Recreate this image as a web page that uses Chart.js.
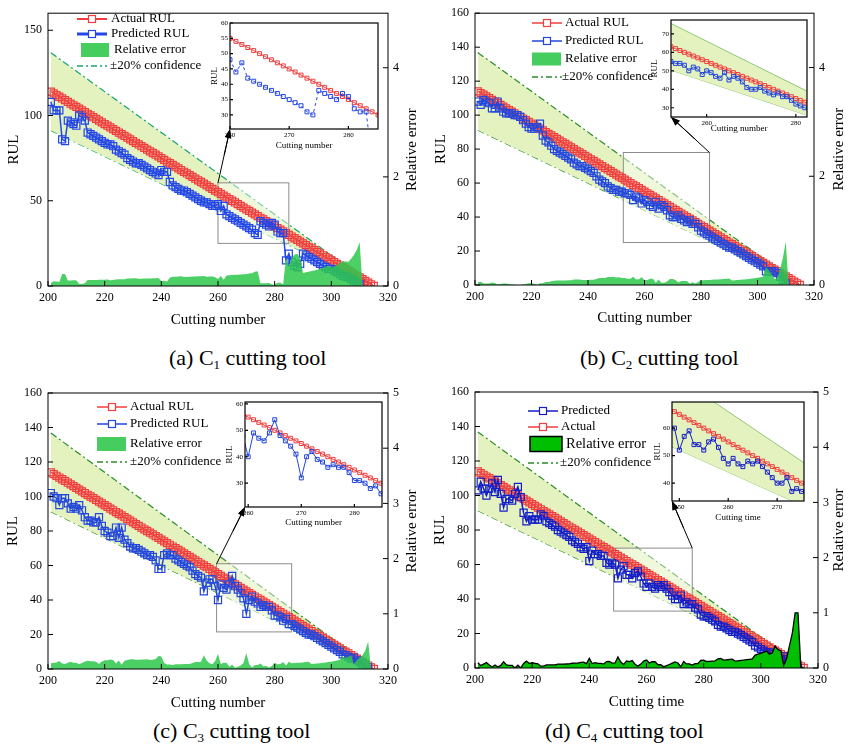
<!DOCTYPE html>
<html>
<head>
<meta charset="utf-8">
<script src="https://cdn.jsdelivr.net/npm/chart.js@4.4.1/dist/chart.umd.min.js"></script>
<style>
  body { margin: 0; background: #fff; width: 853px; height: 744px; position: relative; overflow: hidden;
         font-family: 'Liberation Serif', 'Times New Roman', serif; }
  canvas { position: absolute; }
  .cap { position: absolute; font-size: 22px; line-height: 22px; white-space: nowrap; color: #000; }
  .cap sub { font-size: 13px; vertical-align: baseline; position: relative; top: 4px; }
</style>
</head>
<body>
<div class="cap" style="left:169px;top:347px">(a) C<sub>1</sub> cutting tool</div>
<div class="cap" style="left:580px;top:347px">(b) C<sub>2</sub> cutting tool</div>
<div class="cap" style="left:153px;top:720px">(c) C<sub>3</sub> cutting tool</div>
<div class="cap" style="left:545px;top:720px">(d) C<sub>4</sub> cutting tool</div>
<script>
// cutting numbers 201..315 and the true remaining useful life
const cuttingNumbers = [
  201,202,203,204,205,206,207,208,209,210,211,212,213,214,215,216,217,218,219,220,
  221,222,223,224,225,226,227,228,229,230,231,232,233,234,235,236,237,238,239,240,
  241,242,243,244,245,246,247,248,249,250,251,252,253,254,255,256,257,258,259,260,
  261,262,263,264,265,266,267,268,269,270,271,272,273,274,275,276,277,278,279,280,
  281,282,283,284,285,286,287,288,289,290,291,292,293,294,295,296,297,298,299,300,
  301,302,303,304,305,306,307,308,309,310,311,312,313,314,315
];
const actualRUL = [
  114,113,112,111,110,109,108,107,106,105,104,103,102,101,100,99,98,97,96,95,
  94,93,92,91,90,89,88,87,86,85,84,83,82,81,80,79,78,77,76,75,
  74,73,72,71,70,69,68,67,66,65,64,63,62,61,60,59,58,57,56,55,
  54,53,52,51,50,49,48,47,46,45,44,43,42,41,40,39,38,37,36,35,
  34,33,32,31,30,29,28,27,26,25,24,23,22,21,20,19,18,17,16,15,
  14,13,12,11,10,9,8,7,6,5,4,3,2,1,0
];

// predicted RUL, starting at cutting number 201
const predictedC1 = [
  108,103,103,103,86,85,97,96,95,94,100,99,97,90,89,88,87,86,85,84,
  83,83,82,80,79,78,77,75,74,73,72,72,71,70,69,68,67,66,65,68,
  67,67,61,59,58,57,56,56,55,54,53,52,51,50,49,49,48,47,47,48,
  44,47,42,41,40,39,38,37,36,35,34,33,31,30,38,37,36,35,37,36,
  32,31,31,15,19,14,12,11,13,19,18,17,16,15,14,13,12,11,10,10,
  9,8,7,6,5.5,5,4,3,2,1
];
const predictedC2 = [
  108,106,109,108,107,104,104,108,104,102,101,101,101,100,100,99,97,95,93,92,
  92,93,95,88,85,84,82,80,79,78,77,76,75,74,72,71,70,70,69,68,
  67,66,64,62,61,60,58,57,56,56,55,55,54,54,53,50,52,51,48,50,
  49,47,46,49,45,47,46,44,41,40,40,41,39,38,37,38,36,36,34,32,
  31,30,29,28,27,26,25,24,23,22,22,21,20,19,18,17,16,15,14,13,
  12,11,8,8,8,8,7,5,3,1
];
const predictedC3 = [
  102,100,99,95,99,99,96,93,94,93,95,92,88,86,86,85,85,88,83,80,
  79,77,77,82,76,82,75,73,71,70,70,69,68,67,66,66,65,63,58,58,
  66,67,66,66,64,63,62,61,60,59,57,55,54,53,45,50,52,52,48,40,
  49,47,46,49,54,48,46,44,41,32,40,42,39,38,36,37,36,36,34,31,
  31,30,28,29,26,26,25,24,23,22,21,20,20,19,18,17,16,15,14,13,
  12,11,10,8.5,8,7,6,6.5,5,4,3,2,1
];
const predictedC4 = [
  103,108,104,100,104,107,102,109,101,93,98,98,97,101,105,99,90,85,88,86,
  86,86,89,88,85,84,83,82,80,79,78,77,76,74,73,72,70,69,70,62,
  68,66,66,65,65,61,60,61,60,52,57,59,54,54,52,55,56,53,49,47,
  49,47,46,48,47,48,46,44,42,40,40,42,37,38,37,37,35,34,31,30,
  30,29,28,27,25,24,24,23,22,21,21,20,19,18,17,16,15,13,12,11,
  10,9,9,8,6,6,5.5,6.7,5,3,1.5,0,0
];

// tick labels
const cuttingTicks = [200, 220, 240, 260, 280, 300, 320];
const rulTicksC1 = [0, 50, 100, 150];
const rulTicks = [0, 20, 40, 60, 80, 100, 120, 140, 160];
const errorTicksC1C2 = [0, 2, 4];
const errorTicksC3C4 = [0, 1, 2, 3, 4, 5];
const insetTicksC1 = { x: [260, 270, 280], y: [30, 35, 40, 45, 50, 55, 60] };
const insetTicksC2 = { x: [260, 280], y: [30, 40, 50, 60, 70] };
const insetTicksC3 = { x: [260, 270, 280], y: [30, 40, 50, 60] };
const insetTicksC4 = { x: [250, 260, 270], y: [40, 50, 60] };

const FONT = "'Liberation Serif', 'Times New Roman', serif";
const RED = 'rgb(240,62,62)';
const BAND = 'rgb(228,242,192)';
Chart.defaults.font.family = FONT;
Chart.defaults.color = '#000';

function pts(values) {
  return values.map((v, i) => ({ x: cuttingNumbers[i], y: v }));
}
function relErr(pred) {
  return cuttingNumbers.map((x, i) => {
    const p = pred[i], a = actualRUL[i];
    return { x: x, y: (p == null || a === 0) ? 0 : Math.abs(p - a) / a };
  });
}
function setTicks(arr) {
  return s => { s.ticks = arr.map(v => ({ value: v })); };
}
function addCanvas(b) {
  const c = document.createElement('canvas');
  c.width = b.w; c.height = b.h;
  c.style.left = b.x + 'px'; c.style.top = b.y + 'px';
  c.style.width = b.w + 'px'; c.style.height = b.h + 'px';
  document.body.appendChild(c);
  return c;
}

// box round the plot and short inward ticks
const framePlugin = {
  id: 'frame',
  beforeDraw(chart, args, opts) {
    if (!opts.fill) return;
    const a = chart.chartArea, ctx = chart.ctx;
    ctx.save();
    ctx.fillStyle = opts.fill;
    ctx.fillRect(a.left, a.top, a.right - a.left, a.bottom - a.top);
    ctx.restore();
  },
  afterDraw(chart, args, opts) {
    const a = chart.chartArea, ctx = chart.ctx, sc = chart.scales;
    const L = opts.tick || 4;
    ctx.save();
    ctx.strokeStyle = '#000';
    ctx.lineWidth = opts.width || 1;
    ctx.strokeRect(a.left, a.top, a.right - a.left, a.bottom - a.top);
    ctx.beginPath();
    sc.x.ticks.forEach(t => {
      const px = sc.x.getPixelForValue(t.value);
      ctx.moveTo(px, a.bottom); ctx.lineTo(px, a.bottom - L);
    });
    sc.y.ticks.forEach(t => {
      const py = sc.y.getPixelForValue(t.value);
      ctx.moveTo(a.left, py); ctx.lineTo(a.left + L, py);
    });
    if (sc.y1) {
      sc.y1.ticks.forEach(t => {
        const py = sc.y1.getPixelForValue(t.value);
        ctx.moveTo(a.right, py); ctx.lineTo(a.right - L, py);
      });
    }
    ctx.stroke();
    ctx.restore();
  }
};

function arrowEnds(p) {
  const m = p.mainChart, ins = p.insetChart;
  if (!m || !ins) return null;
  const r = p.rect;
  const cx = p.corner === 'tl' ? r.x0 : r.x1;
  return {
    sx: m.scales.x.getPixelForValue(cx) + p.box.x,
    sy: m.scales.y.getPixelForValue(r.y1) + p.box.y,
    ex: ins.chartArea.left + p.inset.box.x,
    ey: ins.chartArea.bottom + p.inset.box.y
  };
}
function drawArrow(ctx, p, ox, oy) {
  const e = arrowEnds(p);
  if (!e) return;
  const sx = e.sx - ox, sy = e.sy - oy, ex = e.ex - ox, ey = e.ey - oy;
  const ang = Math.atan2(ey - sy, ex - sx), c = Math.cos(ang), s = Math.sin(ang);
  ctx.save();
  ctx.strokeStyle = '#000'; ctx.fillStyle = '#000'; ctx.lineWidth = 1;
  ctx.beginPath(); ctx.moveTo(sx, sy); ctx.lineTo(ex - 6 * c, ey - 6 * s); ctx.stroke();
  ctx.beginPath();
  ctx.moveTo(ex, ey);
  ctx.lineTo(ex - 9 * c + 3.2 * s, ey - 9 * s - 3.2 * c);
  ctx.lineTo(ex - 9 * c - 3.2 * s, ey - 9 * s + 3.2 * c);
  ctx.closePath(); ctx.fill();
  ctx.restore();
}

function drawLegend(ctx, lg) {
  ctx.save();
  ctx.textBaseline = 'middle';
  lg.items.forEach(it => {
    ctx.setLineDash([]);
    if (it.kind === 'line') {
      ctx.strokeStyle = it.color; ctx.lineWidth = it.width;
      ctx.beginPath(); ctx.moveTo(lg.x0, it.y); ctx.lineTo(lg.x1, it.y); ctx.stroke();
      const m = (lg.x0 + lg.x1) / 2;
      ctx.fillStyle = '#fff'; ctx.fillRect(m - 3.5, it.y - 3.5, 7, 7);
      ctx.lineWidth = 1.2; ctx.strokeRect(m - 3.5, it.y - 3.5, 7, 7);
    } else if (it.kind === 'box') {
      ctx.fillStyle = it.fill;
      ctx.fillRect(it.bx0, it.y - it.bh / 2, it.bx1 - it.bx0, it.bh);
      if (it.stroke) {
        ctx.strokeStyle = it.stroke; ctx.lineWidth = 1.5;
        ctx.strokeRect(it.bx0, it.y - it.bh / 2, it.bx1 - it.bx0, it.bh);
      }
    } else {
      ctx.strokeStyle = it.color; ctx.lineWidth = 1.3;
      ctx.setLineDash([6, 3, 2, 3]);
      ctx.beginPath(); ctx.moveTo(lg.x0, it.y); ctx.lineTo(lg.x1, it.y); ctx.stroke();
      ctx.setLineDash([]);
    }
    ctx.fillStyle = '#000';
    ctx.font = (it.size || 13) + 'px ' + FONT;
    ctx.fillText(it.label, it.tx || lg.tx, it.y);
  });
  ctx.restore();
}

function makeOverlay(p) {
  return {
    id: 'overlay',
    afterDatasetDraw(chart, args) {
      if (args.index !== 0) return;
      const ctx = chart.ctx, sx = chart.scales.x, sy = chart.scales.y, r = p.rect;
      const x0 = sx.getPixelForValue(r.x0), x1 = sx.getPixelForValue(r.x1);
      const y0 = sy.getPixelForValue(r.y1), y1 = sy.getPixelForValue(r.y0);
      ctx.save();
      ctx.fillStyle = 'rgba(255,255,255,0.45)';
      ctx.fillRect(x0, y0, x1 - x0, y1 - y0);
      ctx.strokeStyle = 'rgb(140,140,140)'; ctx.lineWidth = 1;
      ctx.strokeRect(x0, y0, x1 - x0, y1 - y0);
      ctx.restore();
    },
    afterDraw(chart) {
      const ctx = chart.ctx, a = chart.chartArea;
      drawLegend(ctx, p.legend);
      ctx.save();
      ctx.fillStyle = '#000';
      ctx.font = '15px ' + FONT;
      ctx.textAlign = 'center'; ctx.textBaseline = 'middle';
      ctx.translate(p.box.w - 14, (a.top + a.bottom) / 2);
      ctx.rotate(-Math.PI / 2);
      ctx.fillText('Relative error', 0, 0);
      ctx.restore();
      drawArrow(ctx, p, p.box.x, p.box.y);
    }
  };
}

const noGrid = { display: false, drawTicks: false };

function buildMain(p) {
  const cv = addCanvas(p.box);
  const tickFont = { family: FONT, size: 12 };
  const titleFont = { family: FONT, size: 15 };
  return new Chart(cv, {
    type: 'line',
    data: {
      datasets: [
        { data: pts(actualRUL.map(v => v * 1.2)), borderColor: p.bandLine, borderWidth: 1.2,
          borderDash: [7, 3, 2, 3], pointRadius: 0, fill: '+1', backgroundColor: BAND, order: 4 },
        { data: pts(actualRUL.map(v => v * 0.8)), borderColor: p.bandLine, borderWidth: 1.2,
          borderDash: [7, 3, 2, 3], pointRadius: 0, fill: false, order: 5 },
        { data: pts(actualRUL), borderColor: RED, borderWidth: 1.2, pointStyle: 'rect', pointRadius: 5,
          pointBorderColor: RED, pointBackgroundColor: 'rgba(0,0,0,0)', pointBorderWidth: 1.2, fill: false, order: 2 },
        { data: pts(p.pred), borderColor: p.blue, borderWidth: 1.5, pointStyle: 'rect', pointRadius: 5,
          pointBorderColor: p.blue, pointBackgroundColor: 'rgba(0,0,0,0)', pointBorderWidth: 1.2, fill: false, order: 1 },
        { data: relErr(p.pred), yAxisID: 'y1', fill: 'origin', backgroundColor: p.errFill,
          borderColor: p.errLine, borderWidth: p.errW, pointRadius: 0, order: 0 }
      ]
    },
    options: {
      animation: false, responsive: false, events: [],
      layout: { padding: { top: p.area.top, left: 0, right: 0, bottom: 0 } },
      scales: {
        x: {
          type: 'linear', min: 200, max: 320,
          afterBuildTicks: setTicks(cuttingTicks),
          afterFit: s => { s.height = p.box.h - p.area.bottom; },
          grid: noGrid, border: { display: false },
          ticks: { font: tickFont, color: '#000', padding: 5, maxRotation: 0 },
          title: { display: true, text: p.xTitle, font: titleFont, color: '#000', padding: { top: 0, bottom: p.xPad } }
        },
        y: {
          min: 0, max: 160,
          afterBuildTicks: setTicks(p.rulTicks),
          afterFit: s => { s.width = p.area.left; },
          grid: noGrid, border: { display: false },
          ticks: { font: tickFont, color: '#000', padding: 6 },
          title: { display: true, text: 'RUL', font: titleFont, color: '#000', padding: { top: p.yPad, bottom: 0 } }
        },
        y1: {
          position: 'right', min: 0, max: 5,
          afterBuildTicks: setTicks(p.errTicks),
          afterFit: s => { s.width = p.box.w - p.area.right; },
          grid: noGrid, border: { display: false },
          ticks: { font: tickFont, color: '#000', padding: 5 }
        }
      },
      plugins: { legend: { display: false }, tooltip: { enabled: false }, frame: { tick: 5 } }
    },
    plugins: [framePlugin, makeOverlay(p)]
  });
}

function buildInset(p) {
  const q = p.inset;
  const cv = addCanvas(q.box);
  const tickFont = { family: FONT, size: 7 };
  const titleFont = { family: FONT, size: 9 };
  const sets = [];
  if (q.band) {
    sets.push({ data: pts(actualRUL.map(v => v * 1.2)), borderColor: 'rgb(120,185,90)', borderWidth: 0.8,
      pointRadius: 0, fill: '+1', backgroundColor: BAND, order: 4 });
    sets.push({ data: pts(actualRUL.map(v => v * 0.8)), borderColor: 'rgb(120,185,90)', borderWidth: 0.8,
      pointRadius: 0, fill: false, order: 5 });
  }
  sets.push({ data: pts(actualRUL), borderColor: RED, borderWidth: 1, pointStyle: 'rect', pointRadius: 2.8,
    pointBorderColor: RED, pointBackgroundColor: 'rgba(0,0,0,0)', pointBorderWidth: 1, fill: false, order: 2 });
  sets.push({ data: pts(p.pred), borderColor: p.blue, borderWidth: 1, borderDash: q.dashed ? [3, 3] : [],
    pointStyle: 'rect', pointRadius: 2.8, pointBorderColor: p.blue, pointBackgroundColor: 'rgba(0,0,0,0)',
    pointBorderWidth: 1, fill: false, order: 1 });
  return new Chart(cv, {
    type: 'line',
    data: { datasets: sets },
    options: {
      animation: false, responsive: false, events: [],
      layout: { padding: { top: q.area.top, left: 0, right: q.box.w - q.area.right, bottom: 0 } },
      scales: {
        x: {
          type: 'linear', min: q.xr[0], max: q.xr[1],
          afterBuildTicks: setTicks(q.ticks.x),
          afterFit: s => { s.height = q.box.h - q.area.bottom; },
          grid: noGrid, border: { display: false },
          ticks: { font: tickFont, color: '#000', padding: 2, maxRotation: 0 },
          title: { display: true, text: q.xTitle, font: titleFont, color: '#000', padding: { top: 0, bottom: q.xPad } }
        },
        y: {
          min: q.yr[0], max: q.yr[1],
          afterBuildTicks: setTicks(q.ticks.y),
          afterFit: s => { s.width = q.area.left; },
          grid: noGrid, border: { display: false },
          ticks: { font: tickFont, color: '#000', padding: 2 },
          title: { display: true, text: 'RUL', font: titleFont, color: '#000', padding: { top: 4.6, bottom: 0 } }
        }
      },
      plugins: { legend: { display: false }, tooltip: { enabled: false }, frame: { tick: 3, fill: '#fff', width: 1.2 } }
    },
    plugins: [framePlugin, { id: 'insetArrow', afterDraw(chart) { drawArrow(chart.ctx, p, q.box.x, q.box.y); } }]
  });
}

const panels = [
  {
    box: { x: 0, y: 0, w: 426, h: 335 }, area: { left: 48, right: 388, top: 11, bottom: 286 },
    pred: predictedC1, rulTicks: rulTicksC1, errTicks: errorTicksC1C2,
    xTitle: 'Cutting number', xPad: 6, yPad: 5,
    bandLine: 'rgb(20,165,110)', blue: 'rgb(35,70,230)',
    errFill: 'rgba(45,200,75,0.85)', errLine: 'rgba(0,0,0,0)', errW: 0,
    rect: { x0: 260, x1: 285, y0: 25, y1: 60.5 }, corner: 'tl',
    legend: { x0: 77, x1: 107, tx: 111, items: [
      { kind: 'line', color: RED, width: 2, y: 19, label: 'Actual RUL' },
      { kind: 'line', color: 'rgb(35,70,230)', width: 3, y: 34, label: 'Predicted RUL' },
      { kind: 'box', fill: 'rgb(70,205,95)', bx0: 81, bx1: 109, bh: 14, y: 50, tx: 114, label: 'Relative error' },
      { kind: 'dash', color: 'rgb(20,165,110)', y: 66, tx: 110, label: '±20% confidence' }
    ] },
    inset: { box: { x: 205, y: 16, w: 180, h: 139 }, area: { left: 25, right: 173, top: 7, bottom: 113 },
      xr: [260, 285], yr: [25.4, 60], ticks: insetTicksC1, band: false, dashed: true,
      xTitle: 'Cutting number', xPad: 3.6 }
  },
  {
    box: { x: 426, y: 0, w: 427, h: 335 }, area: { left: 49, right: 388, top: 10, bottom: 285 },
    pred: predictedC2, rulTicks: rulTicks, errTicks: errorTicksC1C2,
    xTitle: 'Cutting number', xPad: 8, yPad: 6,
    bandLine: 'rgb(40,140,40)', blue: 'rgb(35,70,220)',
    errFill: 'rgba(45,200,75,0.85)', errLine: 'rgba(0,0,0,0)', errW: 0,
    rect: { x0: 252.5, x1: 283, y0: 25, y1: 78 }, corner: 'tr',
    legend: { x0: 106, x1: 136, tx: 139, items: [
      { kind: 'line', color: RED, width: 1.5, y: 23, label: 'Actual RUL' },
      { kind: 'line', color: 'rgb(35,70,220)', width: 1.5, y: 41, label: 'Predicted RUL' },
      { kind: 'box', fill: 'rgb(70,205,95)', bx0: 106, bx1: 135, bh: 13, y: 59, tx: 139, label: 'Relative error' },
      { kind: 'dash', color: 'rgb(40,140,40)', y: 77, tx: 136, label: '±20% confidence' }
    ] },
    inset: { box: { x: 645, y: 12, w: 170, h: 127 }, area: { left: 26, right: 162, top: 8, bottom: 105 },
      xr: [252, 282.5], yr: [25, 77.5], ticks: insetTicksC2, band: true, dashed: false,
      xTitle: 'Cutting number', xPad: 4.6 }
  },
  {
    box: { x: 0, y: 375, w: 426, h: 340 }, area: { left: 48, right: 388, top: 18, bottom: 294 },
    pred: predictedC3, rulTicks: rulTicks, errTicks: errorTicksC3C4,
    xTitle: 'Cutting number', xPad: 3, yPad: 4,
    bandLine: 'rgb(40,140,40)', blue: 'rgb(35,70,220)',
    errFill: 'rgba(45,200,75,0.85)', errLine: 'rgba(0,0,0,0)', errW: 0,
    rect: { x0: 259.5, x1: 286, y0: 21.5, y1: 61 }, corner: 'tl',
    legend: { x0: 97, x1: 127, tx: 130, items: [
      { kind: 'line', color: RED, width: 1.5, y: 32, label: 'Actual RUL' },
      { kind: 'line', color: 'rgb(35,70,220)', width: 1.5, y: 49, label: 'Predicted RUL' },
      { kind: 'box', fill: 'rgb(70,205,95)', bx0: 97, bx1: 126, bh: 14, y: 69, tx: 130, label: 'Relative error' },
      { kind: 'dash', color: 'rgb(40,140,40)', y: 87, tx: 130, label: '±20% confidence' }
    ] },
    inset: { box: { x: 220, y: 395, w: 170, h: 136 }, area: { left: 25, right: 162, top: 7, bottom: 112 },
      xr: [259.4, 285.2], yr: [21, 60.7], ticks: insetTicksC3, band: false, dashed: false,
      xTitle: 'Cutting number', xPad: 2.6 }
  },
  {
    box: { x: 426, y: 375, w: 427, h: 340 }, area: { left: 49, right: 392, top: 17, bottom: 293 },
    pred: predictedC4, rulTicks: rulTicks, errTicks: errorTicksC3C4,
    xTitle: 'Cutting time', xPad: 4, yPad: 5,
    bandLine: 'rgb(40,140,40)', blue: 'rgb(20,30,200)',
    errFill: 'rgb(0,190,0)', errLine: '#000', errW: 1.3,
    rect: { x0: 248.5, x1: 276, y0: 33, y1: 69.5 }, corner: 'tr',
    legend: { x0: 102, x1: 132, tx: 135, items: [
      { kind: 'line', color: 'rgb(20,30,200)', width: 1.5, y: 36, label: 'Predicted' },
      { kind: 'line', color: RED, width: 1.5, y: 52, label: 'Actual' },
      { kind: 'box', fill: 'rgb(0,190,0)', stroke: '#000', bx0: 104, bx1: 136, bh: 15, y: 69, tx: 140, size: 14.5, label: 'Relative error' },
      { kind: 'dash', color: 'rgb(40,140,40)', y: 88, tx: 134, label: '±20% confidence' }
    ] },
    inset: { box: { x: 648, y: 395, w: 165, h: 133 }, area: { left: 24, right: 156, top: 7, bottom: 106 },
      xr: [248.5, 275.5], yr: [33.5, 69.5], ticks: insetTicksC4, band: true, dashed: false,
      xTitle: 'Cutting time', xPad: 4.6 }
  }
];

panels.forEach(p => {
  p.mainChart = buildMain(p);
  p.insetChart = buildInset(p);
  p.mainChart.update('none');
  p.insetChart.update('none');
});
</script>
</body>
</html>
